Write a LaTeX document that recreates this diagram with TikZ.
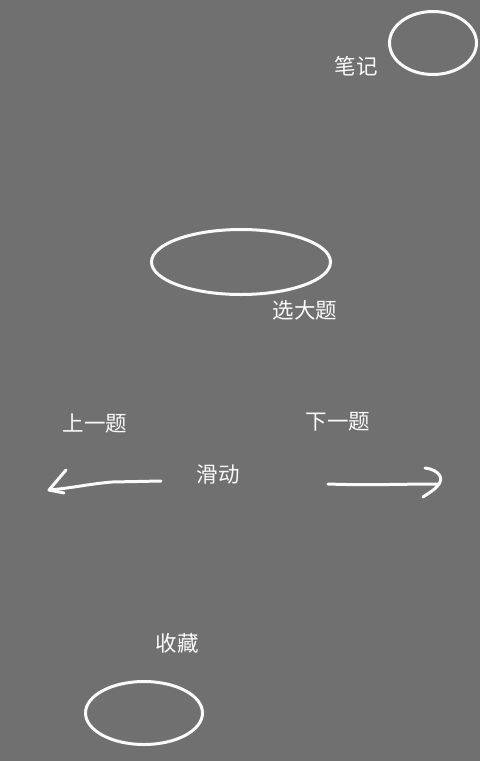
\documentclass[tikz,border=0pt]{standalone}
\usepackage{fontspec}
\usepackage{tikz}
\usetikzlibrary{shapes.geometric,positioning}
\newfontfamily\cjk{Noto Sans CJK SC}
\definecolor{bggray}{RGB}{112, 112, 112}
\definecolor{chalk}{RGB}{250, 250, 250}

\tikzset{
  ring/.style={ellipse, draw=chalk, line width=3pt, inner sep=0pt},
  label/.style={text=chalk, font=\cjk\fontsize{21.5}{24}\selectfont, inner sep=0pt},
  stroke/.style={draw=chalk, line width=3pt, line cap=round, line join=round}
}

\begin{document}
\begin{tikzpicture}[x=1pt, y=-1pt]
            % Background and bounds
            \fill[bggray] (0,0) rectangle (480,761);
            \useasboundingbox (0,0) rectangle (480,761);

            % Tap targets
            \node[ring, minimum width=87pt, minimum height=63pt] (notering) at (433,43) {};
            \node[label] (notelabel) at (356,66) {笔记};

            \node[ring, minimum width=179pt, minimum height=65pt] (pickring) at (241,262) {};
            \node[label] (picklabel) at (305,310) {选大题};

            \node[ring, minimum width=117pt, minimum height=63pt] (starring) at (144,713) {};
            \node[label] (starlabel) at (177,643) {收藏};

            % Swipe hints
            \node[label] (prevlabel) at (95,423) {上一题};
            \node[label] (nextlabel) at (338,422) {下一题};
            \node[label] (swipelabel) at (218,474) {滑动};

            % Left arrow
            \coordinate (lstart) at (161,481);
            \coordinate (lmid) at (112,482);
            \coordinate (ltip) at (49,490);
            \coordinate (lup) at (66,470);
            \coordinate (llow) at (64,493);
            \draw[stroke] (lstart) -- (lmid) to[out=185,in=5] (ltip);
            \draw[stroke] (lup) -- (ltip) -- (llow);

            % Right arrow
            \coordinate (rstart) at (328,484);
            \coordinate (rtip) at (439,484);
            \coordinate (rup) at (425,468);
            \coordinate (rlow) at (423,497);
            \draw[stroke] (rstart) to[out=-2,in=180] (rtip);
            \draw[stroke] (rup) .. controls (441,470) and (443,480) .. (rtip)
                  .. controls (435,489) .. (rlow);
        \end{tikzpicture}
\end{document}
